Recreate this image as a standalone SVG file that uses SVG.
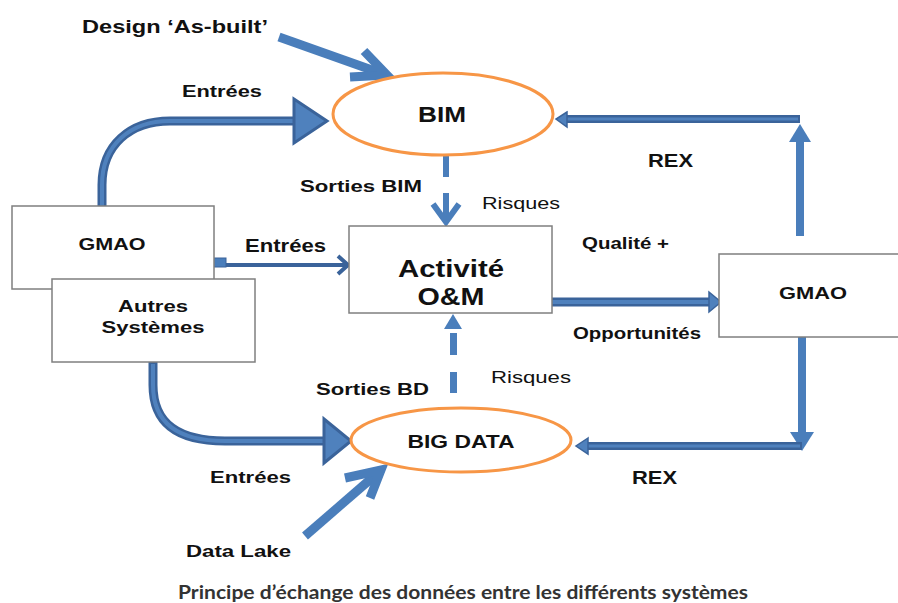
<svg xmlns="http://www.w3.org/2000/svg" width="898" height="603" viewBox="0 0 898 603">
  <style>
    .lbl { font-family: "Liberation Sans", Arial, sans-serif; font-weight: bold; fill: #111; }
    .thin { font-family: "Liberation Sans", Arial, sans-serif; font-weight: normal; fill: #111; }
    .box { fill: #fff; stroke: #7f7f7f; stroke-width: 1.5; }
    .oval { fill: #fff; stroke: #f79646; stroke-width: 3; }
    .flow { fill: none; stroke: #4a7ebb; stroke-linecap: butt; stroke-linejoin: miter; }
    .pipe-out { fill: none; stroke: #3a639a; stroke-width: 9; }
    .pipe-in { fill: none; stroke: #4f81bd; stroke-width: 4; }
    .head { fill: #4f81bd; stroke: #3a639a; stroke-width: 3; stroke-linejoin: miter; }
    .solid { fill: #4a7ebb; }
    .caption { font-family: Lato, "Open Sans", sans-serif; font-weight: bold; fill: #333; }
  </style>

  <rect width="898" height="603" fill="#fff"/>

  <!-- connectors -->
  <g id="connectors">
    <!-- Design 'As-built' into BIM -->
    <path class="flow" stroke-width="9" d="M279,37 L386,75"/>
    <path class="flow" stroke-width="9" d="M364,51 L387,75 L350,77"/>

    <!-- GMAO up into BIM (curved) -->
    <path class="pipe-out" d="M102,208 V185 C102,145 130,121 170,121 H296"/>
    <path class="pipe-in" d="M102,206 V185 C102,145 130,121 170,121 H296"/>
    <polygon class="head" points="294,99 294,143 327,121"/>

    <!-- BIM down to Activité (dashed) -->
    <rect class="solid" x="443" y="155" width="6" height="22"/>
    <path class="flow" stroke-width="6" d="M446,193 V221"/>
    <path class="flow" stroke-width="6" d="M433,204 L446,222 L459,204"/>

    <!-- GMAO right into Activité -->
    <rect x="213" y="258" width="13" height="9" fill="#4a7ebb" stroke="#3a639a" stroke-width="1"/>
    <path fill="none" stroke="#3a639a" stroke-width="4" d="M226,265 H346"/>
    <path fill="none" stroke="#3a639a" stroke-width="4" d="M338,256 L348,265 L338,274"/>

    <!-- Activité to GMAO right -->
    <path fill="none" stroke="#3a639a" stroke-width="9" d="M552,302 H711"/>
    <path fill="none" stroke="#4f81bd" stroke-width="4" d="M552,302 H711"/>
    <polygon points="709,292 721,302 709,312" fill="#4f81bd" stroke="#3a639a" stroke-width="1.5"/>

    <!-- BIG DATA up to Activité (dashed) -->
    <polygon class="solid" points="444,329 453,314 462,329"/>
    <rect class="solid" x="450" y="333" width="7" height="22"/>
    <rect class="solid" x="450" y="372" width="7" height="21"/>

    <!-- GMAO right up, REX back into BIM -->
    <rect class="solid" x="796" y="141" width="8" height="95"/>
    <polygon class="solid" points="789,142 800,124 811,142"/>
    <path fill="none" stroke="#3a639a" stroke-width="8" d="M800,119 H566"/>
    <path fill="none" stroke="#4f81bd" stroke-width="3" d="M798,119 H566"/>
    <polygon points="567,112 556,119 567,127" fill="#4f81bd" stroke="#3a639a" stroke-width="1.5"/>

    <!-- GMAO right down, REX back into BIG DATA -->
    <rect class="solid" x="798" y="327" width="8" height="106"/>
    <polygon class="solid" points="790,432 802,451 814,432"/>
    <path fill="none" stroke="#3a639a" stroke-width="8" d="M802,446 H587"/>
    <path fill="none" stroke="#4f81bd" stroke-width="3" d="M800,446 H587"/>
    <polygon points="588,438 576,446 588,454" fill="#4f81bd" stroke="#3a639a" stroke-width="1.5"/>

    <!-- Autres Systèmes down into BIG DATA (curved) -->
    <path class="pipe-out" stroke-width="8" d="M153,362 V385 C153,425 180,441 225,441 H325"/>
    <path class="pipe-in" stroke-width="3" d="M153,364 V385 C153,425 180,441 225,441 H325"/>
    <polygon class="head" points="324,419 324,463 351,441"/>

    <!-- Data Lake into BIG DATA -->
    <path class="flow" stroke-width="9" d="M305,536 L380,471"/>
    <path class="flow" stroke-width="9" d="M345,478 L381,470 L370,498"/>
  </g>

  <!-- nodes -->
  <g id="bim">
    <ellipse class="oval" cx="443" cy="114" rx="110" ry="41"/>
    <text class="lbl" x="442" y="122" font-size="22" text-anchor="middle" textLength="48" lengthAdjust="spacingAndGlyphs">BIM</text>
  </g>

  <g id="activite">
    <rect class="box" x="349" y="226" width="203" height="87"/>
    <text class="lbl" x="451" y="277" font-size="23" text-anchor="middle" textLength="106" lengthAdjust="spacingAndGlyphs">Activité</text>
    <text class="lbl" x="451" y="305" font-size="23" text-anchor="middle" textLength="67" lengthAdjust="spacingAndGlyphs">O&amp;M</text>
  </g>

  <g id="big-data">
    <ellipse class="oval" cx="461" cy="440" rx="110" ry="32"/>
    <text class="lbl" x="461" y="448" font-size="18" text-anchor="middle" textLength="107" lengthAdjust="spacingAndGlyphs">BIG DATA</text>
  </g>

  <g id="gmao-left">
    <rect class="box" x="12" y="206" width="202" height="83"/>
    <text class="lbl" x="112" y="250" font-size="16" text-anchor="middle" textLength="67" lengthAdjust="spacingAndGlyphs">GMAO</text>
  </g>

  <g id="autres-systemes">
    <rect class="box" x="52" y="279" width="203" height="83"/>
    <text class="lbl" x="153" y="312" font-size="17" text-anchor="middle" textLength="70" lengthAdjust="spacingAndGlyphs">Autres</text>
    <text class="lbl" x="153" y="333" font-size="17" text-anchor="middle" textLength="103" lengthAdjust="spacingAndGlyphs">Systèmes</text>
  </g>

  <g id="gmao-right">
    <rect class="box" x="719" y="254" width="190" height="83"/>
    <text class="lbl" x="813" y="299" font-size="17" text-anchor="middle" textLength="68" lengthAdjust="spacingAndGlyphs">GMAO</text>
  </g>

  <!-- connector labels -->
  <g id="labels">
    <text class="lbl" x="82" y="33" font-size="18" textLength="186" lengthAdjust="spacingAndGlyphs">Design ‘As-built’</text>
    <text class="lbl" x="182" y="97" font-size="17" textLength="80" lengthAdjust="spacingAndGlyphs">Entrées</text>
    <text class="lbl" x="648" y="167" font-size="18" textLength="45" lengthAdjust="spacingAndGlyphs">REX</text>
    <text class="lbl" x="300" y="192" font-size="16.5" textLength="122" lengthAdjust="spacingAndGlyphs">Sorties BIM</text>
    <text class="thin" x="482" y="209" font-size="17" textLength="78" lengthAdjust="spacingAndGlyphs">Risques</text>
    <text class="lbl" x="245" y="252" font-size="17.5" textLength="81" lengthAdjust="spacingAndGlyphs">Entrées</text>
    <text class="lbl" x="582" y="249" font-size="16.5" textLength="87" lengthAdjust="spacingAndGlyphs">Qualité +</text>
    <text class="lbl" x="573" y="339" font-size="16.5" textLength="128" lengthAdjust="spacingAndGlyphs">Opportunités</text>
    <text class="thin" x="491" y="383" font-size="17" textLength="80" lengthAdjust="spacingAndGlyphs">Risques</text>
    <text class="lbl" x="316" y="395" font-size="17" textLength="113" lengthAdjust="spacingAndGlyphs">Sorties BD</text>
    <text class="lbl" x="210" y="483" font-size="17" textLength="81" lengthAdjust="spacingAndGlyphs">Entrées</text>
    <text class="lbl" x="632" y="484" font-size="18" textLength="45" lengthAdjust="spacingAndGlyphs">REX</text>
    <text class="lbl" x="186" y="557" font-size="17" textLength="105" lengthAdjust="spacingAndGlyphs">Data Lake</text>
  </g>

  <text class="caption" x="178" y="599" font-size="18" textLength="570" lengthAdjust="spacingAndGlyphs">Principe d’échange des données entre les différents systèmes</text>
</svg>
